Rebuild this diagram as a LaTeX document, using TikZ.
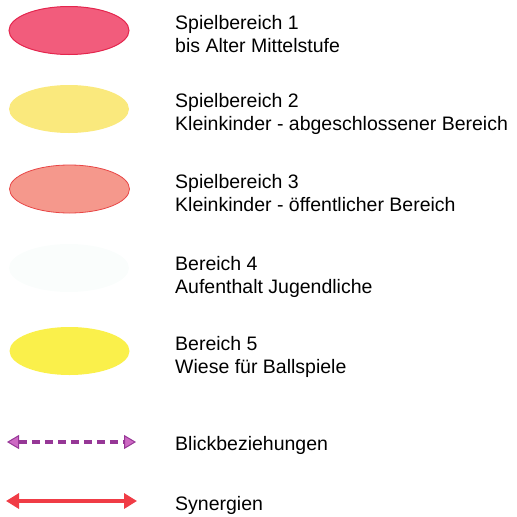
\documentclass[tikz,border=0pt]{standalone}
\usepackage{fontspec}
\setmainfont{Liberation Sans}
\usetikzlibrary{arrows.meta,shapes.geometric}
\definecolor{c1fill}{RGB}{242,92,124}
\definecolor{c1edge}{RGB}{228,38,78}
\definecolor{c2fill}{RGB}{250,233,125}
\definecolor{c3fill}{RGB}{245,152,140}
\definecolor{c3edge}{RGB}{232,70,70}
\definecolor{c4fill}{RGB}{250,253,252}
\definecolor{c5fill}{RGB}{250,240,75}
\definecolor{blickc}{RGB}{150,55,150}
\definecolor{blickhead}{RGB}{205,105,195}
\definecolor{sync}{RGB}{240,60,70}
\tikzset{
  area/.style={ellipse, minimum width=120pt, minimum height=48pt, inner sep=0pt},
  legtext/.style={anchor=base west, inner sep=0pt, font=\fontsize{19.5}{23}\selectfont, align=left},
  blick/.style={draw=blickc, line width=3.2pt, dash pattern=on 8pt off 5pt,
     {Triangle[width=14pt,length=12pt,fill=blickhead,line width=1pt,sep=1pt]}-{Triangle[width=14pt,length=12pt,fill=blickhead,line width=1pt,sep=1pt]}},
  syn/.style={draw=sync, line width=4.2pt,
     {Triangle[width=15pt,length=13pt,fill=sync]}-{Triangle[width=15pt,length=13pt,fill=sync]}},
}
\begin{document}
\begin{tikzpicture}[x=1pt,y=1pt]
\useasboundingbox (0,0) rectangle (517,-517);
\node[area, fill=c1fill, draw=c1edge, line width=1pt] (a1) at (69,-30.5) {};
\node[area, fill=c2fill] (a2) at (69,-109) {};
\node[area, fill=c3fill, draw=c3edge, line width=0.8pt] (a3) at (69.5,-189) {};
\node[area, fill=c4fill] (a4) at (69,-268) {};
\node[area, fill=c5fill] (a5) at (69.5,-351) {};

\node[legtext] (t1) at (175,-52) {Spielbereich 1\\bis Alter Mittelstufe};
\node[legtext] (t2) at (175,-130.5) {Spielbereich 2\\Kleinkinder - abgeschlossener Bereich};
\node[legtext] (t3) at (175,-211) {Spielbereich 3\\Kleinkinder - öffentlicher Bereich};
\node[legtext] (t4) at (175,-293.5) {Bereich 4\\Aufenthalt Jugendliche};
\node[legtext] (t5) at (175,-373) {Bereich 5\\Wiese für Ballspiele};

\coordinate (b1) at (6,-442);
\coordinate (b2) at (137,-442);
\draw[blick] (b1) -- (b2);
\node[legtext] (t6) at (175,-450) {Blickbeziehungen};

\coordinate (s1) at (6,-501);
\coordinate (s2) at (137,-501);
\draw[syn] (s1) -- (s2);
\node[legtext] (t7) at (175,-510) {Synergien};
\end{tikzpicture}
\end{document}
